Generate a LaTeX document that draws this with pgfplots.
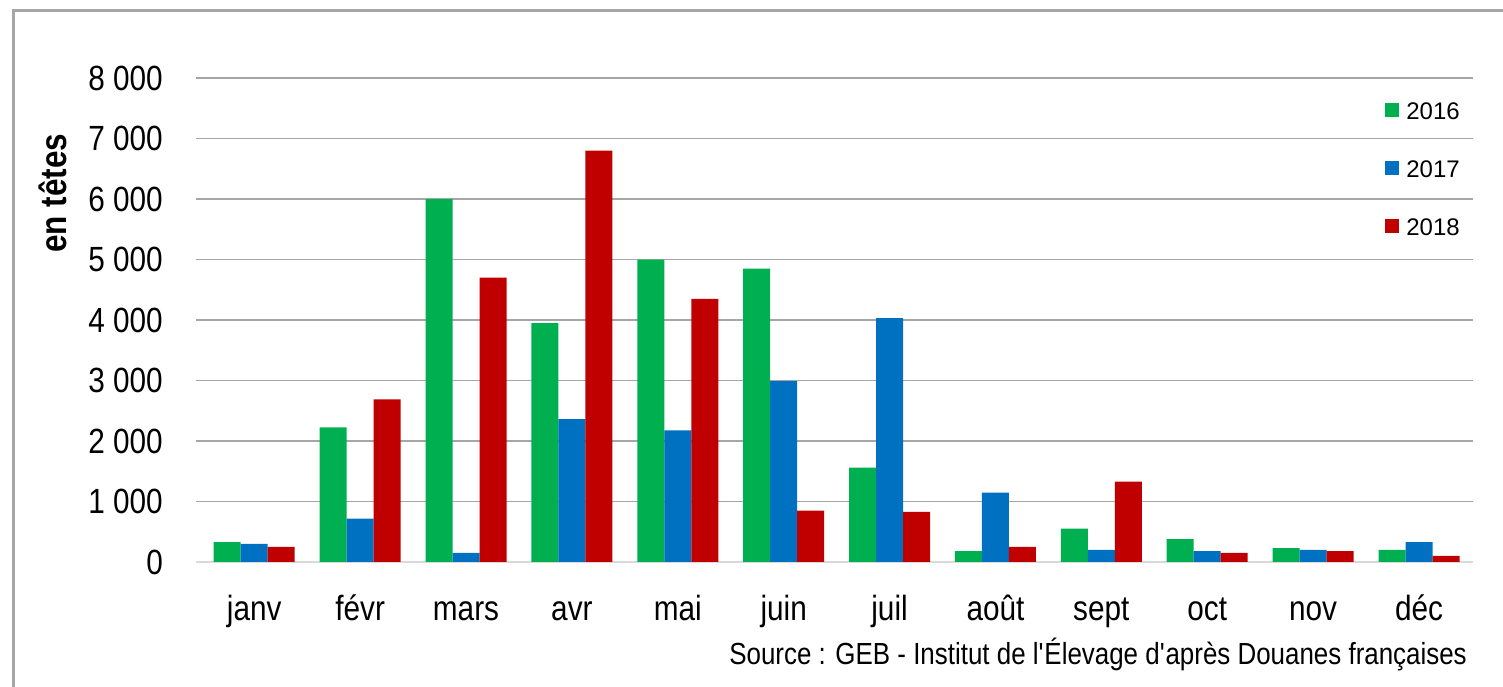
\documentclass[border=0pt]{standalone}
\usepackage{fontspec}
\setmainfont{Liberation Sans}
\newfontfamily\cond[FakeStretch=0.85]{Liberation Sans}
\usepackage{pgfplots}
\pgfplotsset{compat=1.18}
\definecolor{gA}{RGB}{0,176,80}
\definecolor{bA}{RGB}{0,112,192}
\definecolor{rA}{RGB}{192,0,0}
\definecolor{gridc}{RGB}{166,166,166}
\definecolor{axc}{RGB}{217,217,217}
\definecolor{framec}{RGB}{166,166,166}
\begin{document}
\begin{tikzpicture}
\path[use as bounding box] (0,0) rectangle (1503bp,687bp);
\draw[line width=3bp, color=framec] (13bp,0) -- (13bp,676bp) -- (1503bp,676bp);
\begin{axis}[
  at={(196bp,125bp)}, anchor=south west,
  scale only axis, width=1277bp, height=484bp,
  xmin=-0.55, xmax=11.51, ymin=0, ymax=8000,
  clip=false,
  ybar=0pt, bar width=27bp,
  axis x line*=bottom,
  x axis line style={draw=axc, line width=2.5bp, -},
  y axis line style={draw=none},
  ymajorgrids, grid style={draw=gridc, line width=1.5bp},
  major tick length=0pt,
  xtick={0,...,11},
  xticklabels={janv,févr,mars,avr,mai,juin,juil,août,sept,oct,nov,déc},
  ytick={0,1000,...,8000},
  scaled y ticks=false,
  /pgf/number format/.cd, 1000 sep={\ }, assume math mode=true, /pgfplots/.cd,
  xticklabel style={font=\cond\fontsize{35bp}{40bp}\selectfont, inner sep=0pt, anchor=base, yshift=-58bp},
  yticklabel style={font=\cond\fontsize{35bp}{40bp}\selectfont, inner sep=0pt, anchor=east, xshift=-33bp},
  ylabel={en têtes},
  ylabel style={font=\cond\bfseries\fontsize{37bp}{42bp}\selectfont, at={(axis description cs:-0.112,0.762)}, anchor=center},
  legend style={at={(axis description cs:0.9898,0.9494)}, anchor=north east, draw=none, fill=none,
    font=\fontsize{24bp}{28bp}\selectfont, row sep=41bp, column sep=7bp, inner sep=0pt,
    nodes={inner sep=0pt, text height=17bp, text depth=0pt}},
  legend cell align=left,
]
\addplot[fill=gA, draw=none, legend image code/.code={\fill[gA] (0bp,-5.5bp) rectangle (14bp,8.5bp);}] coordinates {
(0,330) (1,2225) (2,6000) (3,3950) (4,5000) (5,4850) (6,1560) (7,180) (8,550) (9,380) (10,230) (11,200)};
\addplot[fill=bA, draw=none, legend image code/.code={\fill[bA] (0bp,-5.5bp) rectangle (14bp,8.5bp);}] coordinates {
(0,300) (1,715) (2,150) (3,2360) (4,2175) (5,2990) (6,4030) (7,1145) (8,200) (9,180) (10,200) (11,330)};
\addplot[fill=rA, draw=none, legend image code/.code={\fill[rA] (0bp,-5.5bp) rectangle (14bp,8.5bp);}] coordinates {
(0,250) (1,2690) (2,4700) (3,6800) (4,4350) (5,850) (6,830) (7,250) (8,1330) (9,150) (10,180) (11,100)};
\legend{2016,2017,2018}
\node[anchor=base east, inner sep=0pt, font=\cond\fontsize{30.5bp}{36bp}\selectfont] at (axis description cs:0.9953,-0.2128) {Source : GEB - Institut de l\textquotesingle Élevage d\textquotesingle après Douanes françaises};
\end{axis}
\end{tikzpicture}
\end{document}
